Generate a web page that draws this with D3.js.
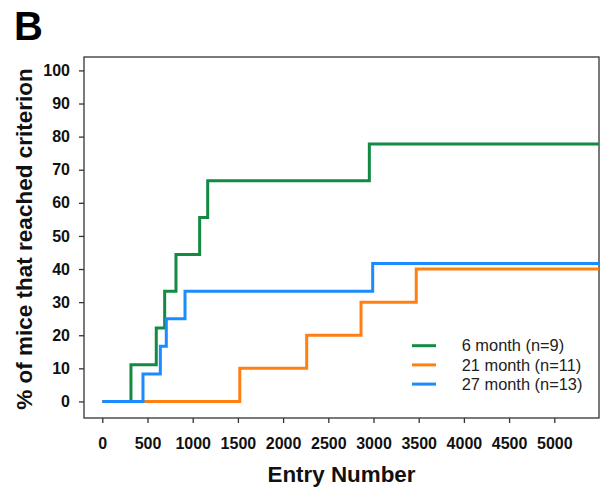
<!DOCTYPE html>
<html><head><meta charset="utf-8">
<script src="https://cdn.jsdelivr.net/npm/d3@7"></script>
<style>body{margin:0;background:#fff}svg{display:block}</style>
</head><body>
<svg id="c" width="600" height="488"></svg>
<script>
const seriesNames = ["6 month (n=9)", "21 month (n=11)", "27 month (n=13)"];
const seriesColors = ["#138a43", "#ff8012", "#1b8bff"];
const greenX = [0, 317, 597, 690, 815, 1077, 1166, 2954, 5494];
const greenY = [0, 11.1, 22.2, 33.3, 44.4, 55.6, 66.7, 77.8, 77.8];
const orangeX = [0, 1521, 2261, 2862, 3473, 5494];
const orangeY = [0, 10, 20, 30, 40, 40];
const blueX = [0, 450, 642, 708, 915, 2991, 5494];
const blueY = [0, 8.3, 16.7, 25, 33.3, 41.7, 41.7];
const xTicks = [0,500,1000,1500,2000,2500,3000,3500,4000,4500,5000];
const yTicks = [0,10,20,30,40,50,60,70,80,90,100];

const svg = d3.select("#c");
const L = 84, R = 599, T = 57, B = 418;
const x = d3.scaleLinear().domain([-202.4, 5494.5]).range([L, R]);
const y = d3.scaleLinear().domain([-5, 104.05]).range([B, T]);
const font = "'Liberation Sans', Arial, sans-serif";

svg.append("text").attr("x", 14).attr("y", 39.5).text("B")
  .attr("font-family", font).attr("font-weight", "bold").attr("font-size", 40);

// frame
svg.append("rect").attr("x", L).attr("y", T).attr("width", R - L).attr("height", B - T)
  .attr("fill", "none").attr("stroke", "#333").attr("stroke-width", 1.3);

const xa = svg.append("g").attr("transform", `translate(0,${B})`)
  .call(d3.axisBottom(x).tickValues(xTicks).tickSize(5).tickPadding(15).tickFormat(d3.format("d")));
const ya = svg.append("g").attr("transform", `translate(${L},0)`)
  .call(d3.axisLeft(y).tickValues(yTicks).tickSize(5).tickPadding(9).tickFormat(d3.format("d")));
[xa, ya].forEach(a => {
  a.select(".domain").remove();
  a.selectAll("line").attr("stroke", "#333").attr("stroke-width", 1.3);
  a.selectAll("text").attr("font-family", font).attr("font-weight", "bold")
    .attr("font-size", 16).attr("fill", "#111");
});

svg.append("text").attr("x", (L + R) / 2).attr("y", 482).attr("text-anchor", "middle")
  .attr("font-family", font).attr("font-weight", "bold").attr("font-size", 22.4)
  .attr("fill", "#111").text("Entry Number");
svg.append("text").attr("transform", `translate(32,239) rotate(-90)`).attr("text-anchor", "middle")
  .attr("font-family", font).attr("font-weight", "bold").attr("font-size", 22.5)
  .attr("fill", "#111").text("% of mice that reached criterion");

svg.append("clipPath").attr("id", "clip").append("rect")
  .attr("x", L).attr("y", T).attr("width", R - L).attr("height", B - T);

const line = d3.line().x(d => x(d[0])).y(d => y(d[1])).curve(d3.curveStepAfter);
const series = [d3.zip(greenX, greenY), d3.zip(orangeX, orangeY), d3.zip(blueX, blueY)];
const g = svg.append("g").attr("clip-path", "url(#clip)");
series.forEach((s, i) => {
  g.append("path").attr("d", line(s)).attr("fill", "none")
    .attr("stroke", seriesColors[i]).attr("stroke-width", 3).attr("stroke-linejoin", "miter");
});

const leg = svg.append("g");
seriesNames.forEach((n, i) => {
  const yy = 345.7 + i * 19.2;
  leg.append("line").attr("x1", 412).attr("x2", 436).attr("y1", yy).attr("y2", yy)
    .attr("stroke", seriesColors[i]).attr("stroke-width", 3);
  leg.append("text").attr("x", 461.7).attr("y", yy).attr("dy", "0.35em")
    .attr("font-family", font).attr("font-size", 16.4).attr("fill", "#222").text(n);
});
</script>
</body></html>
